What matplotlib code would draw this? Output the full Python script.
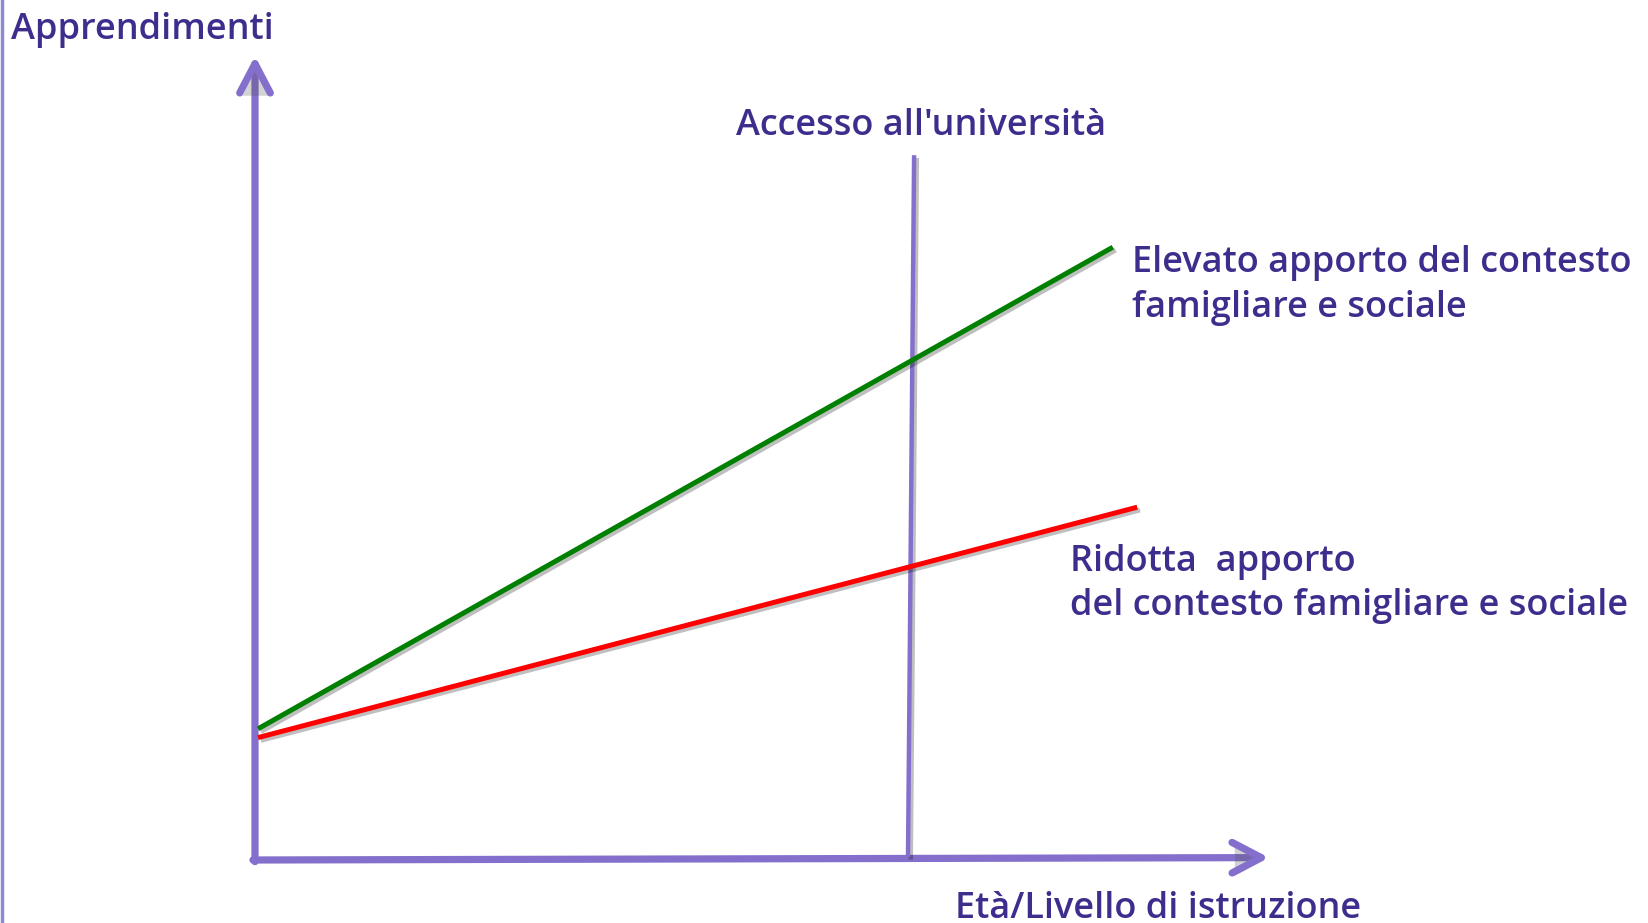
import matplotlib
matplotlib.use("Agg")
import matplotlib.pyplot as plt
from matplotlib.patches import FancyArrowPatch
from matplotlib.lines import Line2D
import matplotlib.patheffects as pe

# ---- data (schematic units: x = età/livello, y = apprendimenti) ----
x_axis_label = "Età/Livello di istruzione"
y_axis_label = "Apprendimenti"
high_label = "Elevato apporto del contesto\nfamigliare e sociale"
low_label = "Ridotta  apporto\ndel contesto famigliare e sociale"
uni_label = "Accesso all'università"

high_x = [0.03, 8.46]
high_y = [1.64, 7.66]
low_x = [0.03, 8.70]
low_y = [1.53, 4.41]
uni_x = [6.50, 6.44]
uni_y = [8.81, 0.04]

axis_max_x = 10.0
axis_max_y = 10.05

# ---- style ----
TEXT = "#3f2d8d"
AXIS = "#8470cc"
FONT = ["Open Sans", "DejaVu Sans"]
FS = 26

fig = plt.figure(figsize=(16.49, 9.23), dpi=100)
ax = fig.add_axes([255/1649, 63/923, 1014/1649, 800/923])
ax.set_xlim(0, 10.0)
ax.set_ylim(0, 10.0)
ax.axis("off")

shadow = [pe.SimpleLineShadow(offset=(2, -2), alpha=0.25, shadow_color="k"), pe.Normal()]

# left border line of the slide
fig.add_artist(Line2D([0.0015, 0.0015], [0, 1], transform=fig.transFigure,
                      color="#8e88d2", lw=2.5))

# axes arrows
for (x0, y0, x1, y1) in [(0, -0.02, 0, axis_max_y), (-0.02, 0, axis_max_x, 0.03)]:
    arr = FancyArrowPatch((x0, y0), (x1, y1), transform=ax.transData,
                          arrowstyle="->,head_length=1.05,head_width=0.55",
                          mutation_scale=20, lw=5.2, color=AXIS,
                          shrinkA=0, shrinkB=0,
                          capstyle="round", joinstyle="round", clip_on=False)
    arr.set_path_effects([pe.SimplePatchShadow(offset=(2, -2), alpha=0.25), pe.Normal()])
    ax.add_patch(arr)

# vertical university line
ax.plot(uni_x, uni_y, color=AXIS, lw=3.2, solid_capstyle="butt", clip_on=False,
        path_effects=shadow)

# series lines
ax.plot(high_x, high_y, color="#008000", lw=3.6, solid_capstyle="butt", clip_on=False,
        path_effects=shadow)
ax.plot(low_x, low_y, color="#ff0000", lw=3.6, solid_capstyle="butt", clip_on=False,
        path_effects=shadow)

# labels
kw = dict(color=TEXT, fontsize=FS, family=FONT, fontweight="semibold", clip_on=False)
ax.text(-2.41, 10.38, y_axis_label, ha="left", va="center", **kw)
ax.text(6.57, 9.17, uni_label, ha="center", va="center", **kw)
ax.text(8.65, 7.18, high_label, ha="left", va="center", linespacing=1.33, **kw)
ax.text(8.04, 3.45, low_label, ha="left", va="center", linespacing=1.33, **kw)
ax.text(6.90, -0.61, x_axis_label, ha="left", va="center", **kw)

fig.savefig("out.png", dpi=100, facecolor="white")
